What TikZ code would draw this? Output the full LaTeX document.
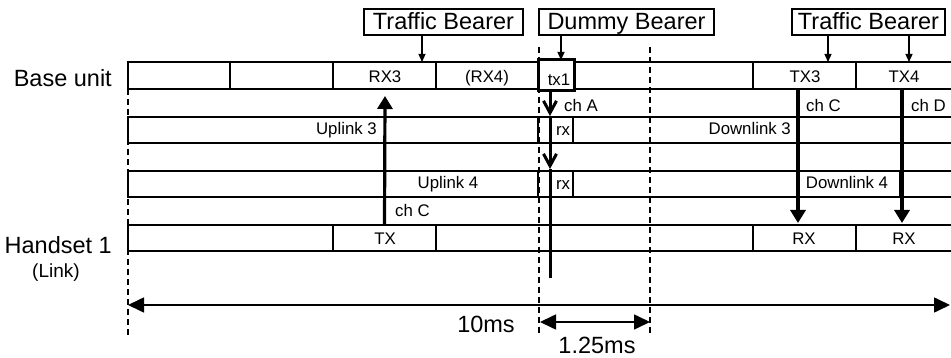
\documentclass[tikz,border=0pt]{standalone}
\usepackage{fontspec}
\setmainfont{Liberation Sans}
\usetikzlibrary{arrows.meta}
\begin{document}
\begin{tikzpicture}[x=1pt,y=-1pt,
  big/.style={font=\fontsize{23.5}{26}\selectfont},
  sml/.style={font=\fontsize{16.8}{18}\selectfont},
  cell/.style={draw, line width=1.1pt, inner sep=0pt, outer sep=0pt, anchor=north west},
  lbl/.style={sml, inner sep=0pt, anchor=base},
  bearer/.style={draw, line width=1.4pt, big, inner sep=0pt, minimum height=26pt,
                 text height=18pt, text depth=3pt},
  bigarrow/.style={line width=3.2pt, -{Triangle[length=13pt,width=15pt]}},
  barb/.style={line width=3pt, -{Straight Barb[length=12pt,width=13pt]}},
  bline/.style={line width=3pt},
  smallarrow/.style={line width=1.2pt, -{Triangle[length=8pt,width=7pt]}},
  dim/.style={line width=1.6pt, {Triangle[length=16pt,width=15pt]}-{Triangle[length=16pt,width=15pt]}},
  dashline/.style={line width=1.8pt, dash pattern=on 6pt off 4pt}]
\useasboundingbox (0,0) rectangle (951,358);

% dashed guide lines
\coordinate (g0a) at (128,89);  \coordinate (g0b) at (128,336);
\coordinate (g1a) at (539,47);  \coordinate (g1b) at (539,336);
\coordinate (g2a) at (650,47);  \coordinate (g2b) at (650,336);
\draw[dashline] (g0a) -- (g0b);
\draw[dashline] (g1a) -- (g1b);
\draw[dashline] (g2a) -- (g2b);

% base unit row
\foreach \n/\a/\b in {b1/128/230, b2/230/333, b3/333/436, b4/436/538, b6/574/753, b7/753/856, b8/856/952}
  \node[cell, minimum width=\b-\a, minimum height=27] (\n) at (\a,62) {};
% uplink 3 row
\foreach \n/\a/\b in {u3a/128/538, u3b/538/573, u3c/573/952}
  \node[cell, minimum width=\b-\a, minimum height=26] (\n) at (\a,117) {};
% uplink 4 row
\foreach \n/\a/\b in {u4a/128/538, u4b/538/573, u4c/573/900, u4d/900/952}
  \node[cell, minimum width=\b-\a, minimum height=26] (\n) at (\a,171) {};
% handset row
\foreach \n/\a/\b in {h1/128/333, h2/333/436, h3/436/753, h4/753/856, h5/856/952}
  \node[cell, minimum width=\b-\a, minimum height=26] (\n) at (\a,225) {};
% tx1 box
\node[cell, line width=3pt, minimum width=36, minimum height=31] (tx1) at (538,60) {};

% row labels
\node[big, inner sep=0pt, anchor=base east] (base) at (112,87) {Base unit};
\node[big, inner sep=0pt, anchor=base east] (hs) at (112,254) {Handset 1};
\node[font=\fontsize{19}{21}\selectfont, inner sep=0pt, anchor=base] (link) at (56,278) {(Link)};

% cell texts
\node[lbl] (trx3) at (385,83) {RX3};
\node[lbl] (trx4) at (487,83) {(RX4)};
\node[lbl] (ttx1) at (559,86) {tx1};
\node[lbl] (ttx3) at (805,83) {TX3};
\node[lbl] (ttx4) at (904,83) {TX4};
\node[lbl, anchor=base west] (cha) at (564,112) {ch A};
\node[lbl, anchor=base west] (chc1) at (806,112) {ch C};
\node[lbl, anchor=base west] (chd) at (911,112) {ch D};
\node[lbl, anchor=base east] (ul3) at (377,135) {Uplink 3};
\node[lbl] (rx1) at (563,136) {rx};
\node[lbl, anchor=base east] (dl3) at (791,135) {Downlink 3};
\node[lbl] (ul4) at (448,189) {Uplink 4};
\node[lbl] (rx2) at (563,190) {rx};
\node[lbl] (dl4) at (847,189) {Downlink 4};
\node[lbl, anchor=base west] (chc2) at (395,217) {ch C};
\node[lbl] (ttx) at (385,245) {TX};
\node[lbl] (trxa) at (804,245) {RX};
\node[lbl] (trxb) at (904,245) {RX};

% bearer boxes
\node[bearer, minimum width=159] (tb1) at (443.5,22) {Traffic Bearer};
\node[bearer, minimum width=175] (db) at (626.5,22) {Dummy Bearer};
\node[bearer, minimum width=153] (tb2) at (868.5,22) {Traffic Bearer};

% bearer arrows
\coordinate (a1) at (422,62); \coordinate (a2) at (561,60);
\coordinate (a3) at (828,62); \coordinate (a4) at (909,62);
\draw[smallarrow] (tb1.south -| a1) -- (a1);
\draw[smallarrow] (db.south -| a2) -- (a2);
\draw[smallarrow] (tb2.south -| a3) -- (a3);
\draw[smallarrow] (tb2.south -| a4) -- (a4);

% uplink arrow
\coordinate (upend) at (385,96);
\draw[bigarrow] (h2.north) -- (upend);

% downlink arrows
\coordinate (d3s) at (798,89); \coordinate (d3e) at (798,223);
\coordinate (d4s) at (902,89); \coordinate (d4e) at (902,223);
\draw[bigarrow] (d3s) -- (d3e);
\draw[bigarrow] (d4s) -- (d4e);

% dummy bearer line
\coordinate (v0) at (550,91); \coordinate (v1) at (550,116);
\coordinate (v2) at (550,169); \coordinate (v3) at (550,278);
\draw[barb] (v0) -- (v1);
\draw[barb] (v1) -- (v2);
\draw[bline] (v2) -- (v3);

% timing
\coordinate (t0) at (128,305); \coordinate (t1) at (950,305);
\draw[dim] (t0) -- (t1);
\node[big, inner sep=0pt, anchor=base] (ms10) at (486,332) {10ms};
\coordinate (s0) at (540,322); \coordinate (s1) at (650,322);
\draw[dim] (s0) -- (s1);
\node[big, inner sep=0pt, anchor=base] (ms125) at (597,353) {1.25ms};
\end{tikzpicture}
\end{document}
